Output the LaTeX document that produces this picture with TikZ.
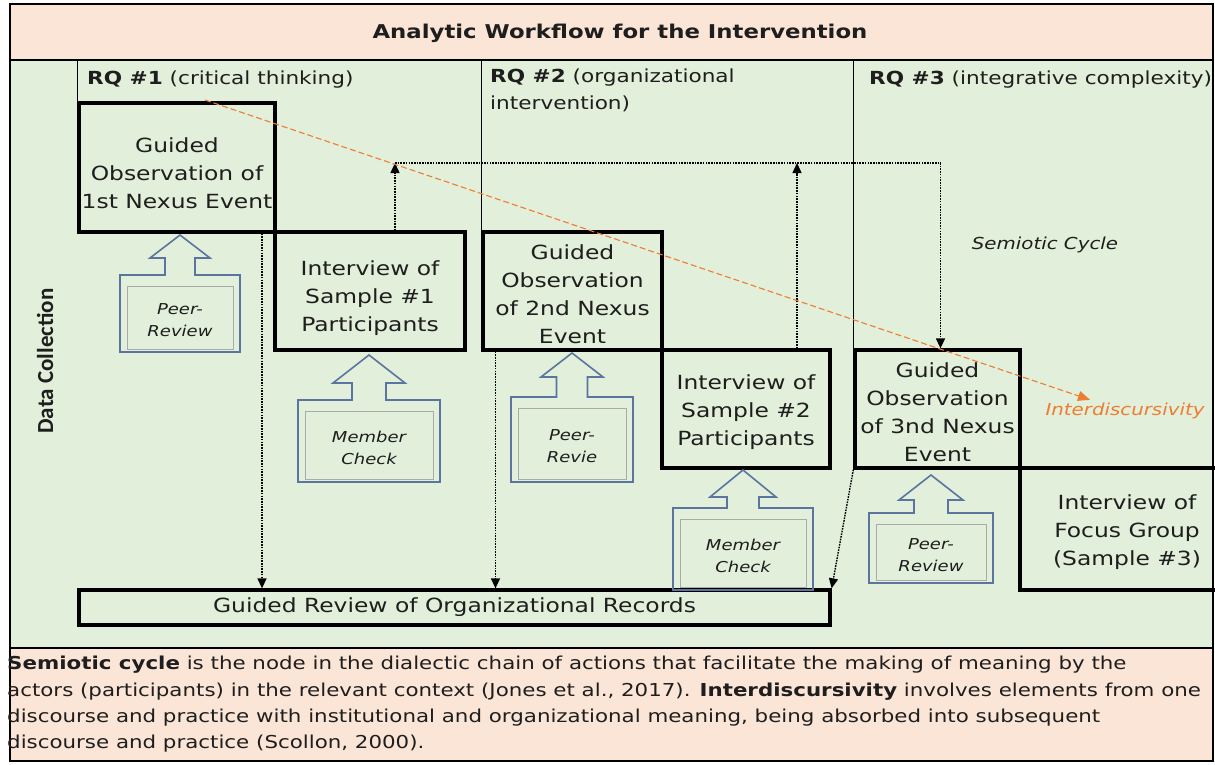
\documentclass[tikz,border=0pt]{standalone}
\usepackage{fontspec}
\setmainfont{DejaVu Sans}[FakeStretch=1.2]
\newfontfamily\sidefont{Carlito}
\usetikzlibrary{arrows.meta,calc}

\definecolor{panelgreen}{RGB}{226,239,218}
\definecolor{panelsalmon}{RGB}{251,229,214}
\definecolor{calloutblue}{RGB}{92,116,160}
\definecolor{innergray}{RGB}{170,170,170}
\definecolor{trendorange}{RGB}{237,125,49}
\definecolor{inkdark}{RGB}{30,30,30}

\tikzset{
  stagebox/.style={draw=black, line width=3.3pt, inner sep=0pt},
  stagetext/.style={align=center, inner sep=0pt, text=inkdark,
    font=\fontsize{19.5}{28}\selectfont},
  colline/.style={line width=1.1pt, black},
  dotflow/.style={line width=1.4pt, dash pattern=on 1.6pt off 1.1pt, black},
  dotarrow/.style={dotflow, -{Triangle[length=10pt,width=9pt]}},
  trendline/.style={line width=1.1pt, trendorange, dash pattern=on 6pt off 3pt,
    -{Triangle[length=12pt,width=10pt]}},
  calloutframe/.style={draw=calloutblue, line width=1.6pt},
  calloutinner/.style={draw=innergray, line width=0.9pt},
  callouttext/.style={align=center, inner sep=0pt, text=inkdark,
    font=\itshape\fontsize{15}{22}\selectfont},
  rqlabel/.style={inner sep=0pt, text=inkdark, font=\fontsize{18}{27}\selectfont}
}

\begin{document}
\begin{tikzpicture}[x=1pt,y=-1pt]
\useasboundingbox (0,0) rectangle (1215,764);

% background bands
\fill[panelsalmon] (10,4) rectangle (1213,60);
\fill[panelgreen] (10,60) rectangle (1213,648);
\fill[panelsalmon] (10,648) rectangle (1213,761);

% title
\node[inner sep=0pt, text=inkdark, font=\bfseries\fontsize{19}{22}\selectfont] (title) at (620,33)
  {Analytic Workflow for the Intervention};

% research question headings
\node[rqlabel, anchor=base west] (rq1) at (87,84) {\textbf{RQ \#1} (critical thinking)};
\node[rqlabel, anchor=north west, align=left] (rq2) at (490,69)
  {\textbf{RQ \#2} (organizational\\intervention)};
\node[rqlabel, anchor=base west] (rq3) at (869,84) {\textbf{RQ \#3} (integrative complexity)};

% side label
\node[rotate=90, inner sep=0pt, text=inkdark, font=\sidefont\bfseries\fontsize{23}{26}\selectfont]
  (datacol) at (45,361) {Data Collection};

% stage boxes
\node[stagebox, minimum width=196pt, minimum height=129pt] (obs1) at (177,167.5) {};
\node[stagebox, minimum width=190pt, minimum height=118pt] (int1) at (370,291) {};
\node[stagebox, minimum width=179pt, minimum height=118pt] (obs2) at (572.5,291) {};
\node[stagebox, minimum width=168pt, minimum height=118pt] (int2) at (746,409) {};
\node[stagebox, minimum width=165pt, minimum height=118pt] (obs3) at (937.5,409) {};
\node[stagebox, minimum width=214pt, minimum height=122pt] (focus) at (1127,529) {};
\node[stagebox, minimum width=751pt, minimum height=35pt] (records) at (454.5,607.5) {};

% stage box texts
\node[stagetext] (obs1txt) at ([yshift=-6pt]obs1.center) {Guided\\Observation of\\1st Nexus Event};
\node[stagetext] (int1txt) at ([yshift=-7pt]int1.center) {Interview of\\Sample \#1\\Participants};
\node[stagetext] (obs2txt) at ([yshift=-3pt]obs2.center) {Guided\\Observation\\of 2nd Nexus\\Event};
\node[stagetext] (int2txt) at ([yshift=-3pt]int2.center) {Interview of\\Sample \#2\\Participants};
\node[stagetext] (obs3txt) at ([yshift=-3pt]obs3.center) {Guided\\Observation\\of 3nd Nexus\\Event};
\node[stagetext] (focustxt) at ([yshift=-3pt]focus.center) {Interview of\\Focus Group\\(Sample \#3)};
\node[stagetext] (recordstxt) at (records.center) {Guided Review of Organizational Records};

% column separators
\draw[colline] (obs1.north west |- 0,60) -- (obs1.north west);
\draw[colline] (obs2.north west |- 0,60) -- (obs2.north west);
\draw[colline] (obs3.north west |- 0,60) -- (obs3.north west);

% frame
\draw[line width=2.5pt] (10,4) rectangle (1213,761);
\draw[line width=2.5pt] (10,60) -- (1213,60);
\draw[line width=1.4pt] (10,648) -- (1213,648);

% labels on the right
\node[inner sep=0pt, text=inkdark, font=\itshape\fontsize{16.5}{20}\selectfont]
  (semcycle) at (1045,245) {Semiotic Cycle};
\node[inner sep=0pt, text=trendorange, font=\itshape\fontsize{16.5}{20}\selectfont]
  (interdisc) at (1125,411) {Interdiscursivity};

% feedback loop between interviews and observations
\coordinate (loopA) at ([xshift=25pt]int1.north |- 0,163);
\coordinate (loopB) at ([xshift=3pt]obs3.north |- 0,163);
\draw[dotarrow] ([xshift=25pt]int1.north) -- (loopA);
\draw[dotflow] (loopA) -- (loopB);
\draw[dotarrow] (loopB) -- ([xshift=3pt]obs3.north);
\draw[dotarrow] ([xshift=51pt]int2.north) -- ([xshift=51pt]int2.north |- loopA);

% records review feeds
\draw[dotarrow] ([xshift=85pt]obs1.south) -- ([xshift=85pt]obs1.south |- records.north);
\draw[dotarrow] ([xshift=-77pt]obs2.south) -- ([xshift=-77pt]obs2.south |- records.north);
\draw[dotarrow] (obs3.south west) -- (records.north east);

% interdiscursivity trend
\coordinate (trendstart) at (205,100);
\draw[trendline] (trendstart) -- ([xshift=-35pt,yshift=3pt]interdisc.north);

% review callouts with upward block arrows
\foreach \n/\cx/\w/\h/\s/\ytip/\ybase/\ytop/\ybot/\txt in {
  a/180/60/30/15/235/258/275/352/{Peer-\\Review},
  b/369/71/36/17/355/383/400/482/{Member\\Check},
  c/572/61/31/15.5/353/377/397/482/{Peer-\\Revie},
  d/743/70/33/16/470/497/508/590/{Member\\Check},
  e/931/62/32/17/475/500/513/583/{Peer-\\Review}} {
  \draw[calloutframe] (\cx-\w,\ybot) -- (\cx-\w,\ytop) -- (\cx-\s,\ytop) -- (\cx-\s,\ybase)
    -- (\cx-\h,\ybase) -- (\cx,\ytip) -- (\cx+\h,\ybase) -- (\cx+\s,\ybase)
    -- (\cx+\s,\ytop) -- (\cx+\w,\ytop) -- (\cx+\w,\ybot) -- cycle;
  \draw[calloutinner] (\cx-\w+7,\ytop+11) rectangle (\cx+\w-7,\ybot-3);
  \node[callouttext] (call\n) at (\cx,{(\ytop+\ybot)/2+7}) {\txt};
}

% definitions
\node[anchor=north west, align=left, inner sep=0pt, text=inkdark,
  font=\fontsize{17.8}{26.3}\selectfont] (notes) at (7,656)
  {\textbf{Semiotic cycle} is the node in the dialectic chain of actions that facilitate the making of meaning by the\\
   actors (participants) in the relevant context (Jones et al., 2017). \textbf{Interdiscursivity} involves elements from one\\
   discourse and practice with institutional and organizational meaning, being absorbed into subsequent\\
   discourse and practice (Scollon, 2000).};
\end{tikzpicture}
\end{document}
